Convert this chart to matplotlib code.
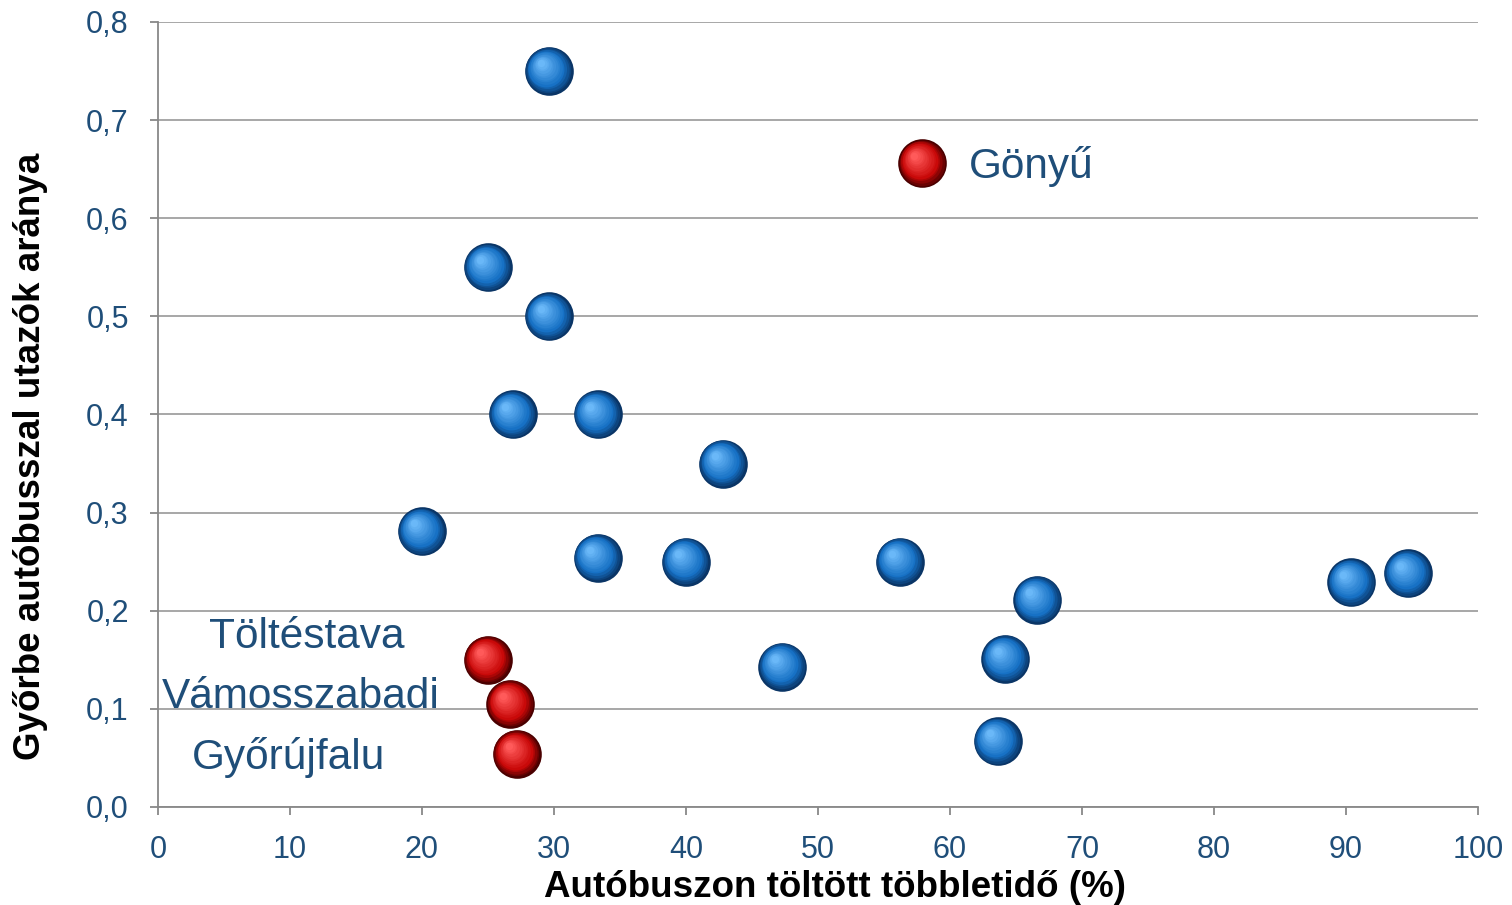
import numpy as np
import matplotlib.pyplot as plt
import matplotlib.transforms as mtransforms
from matplotlib.colors import to_rgb
from matplotlib.ticker import FuncFormatter

# többletidő (%) vs. arány
blue_x = [29.6, 25.0, 29.6, 26.9, 33.3, 42.8, 20.0, 33.3, 40.0, 56.2, 66.6, 90.4, 94.7, 47.3, 64.2, 63.6]
blue_y = [0.75, 0.55, 0.50, 0.40, 0.40, 0.35, 0.281, 0.254, 0.25, 0.25, 0.211, 0.229, 0.238, 0.143, 0.151, 0.067]

red_names = ["Gönyű", "Töltéstava", "Vámosszabadi", "Győrújfalu"]
red_x = [57.9, 25.0, 26.7, 27.2]
red_y = [0.656, 0.15, 0.105, 0.054]

label_pos = [(61.4, 0.653, "left"), (11.3, 0.173, "center"), (10.8, 0.112, "center"), (9.9, 0.050, "center")]

txt_color = "#1F4E79"
plt.rcParams["font.family"] = ["Liberation Sans", "DejaVu Sans"]

fig = plt.figure(figsize=(15.12, 9.05), dpi=100)
ax = fig.add_axes([0.1045, 0.1083, 0.873, 0.8674])


def spheres(ax, xs, ys, dark, base, light, r=17.5, z=3):
    dark, base, light = np.array(to_rgb(dark)), np.array(to_rgb(base)), np.array(to_rgb(light))
    n = 14
    for k in range(n):
        t = k / (n - 1)
        if t < 0.3:
            c = dark + (base - dark) * (t / 0.3)
        else:
            c = base + (light - base) * ((t - 0.3) / 0.7)
        rad = r * (1 - 0.85 * t)
        off = 0.32 * r * t
        tr = mtransforms.offset_copy(ax.transData, fig=fig, x=-off, y=off, units="points")
        ax.scatter(xs, ys, s=(2 * rad) ** 2, color=c, transform=tr, zorder=z + k * 0.01,
                   linewidths=0, clip_on=False)


spheres(ax, blue_x, blue_y, "#0a3566", "#1670c4", "#6ab8f8")
spheres(ax, red_x, red_y, "#4a0000", "#c80808", "#ff5a5a")

for (tx, ty, ha), name in zip(label_pos, red_names):
    ax.text(tx, ty, name, ha=ha, va="center", fontsize=30.5, color=txt_color, zorder=5)

ax.set_xlim(0, 100)
ax.set_ylim(0, 0.8)
ax.set_xticks(np.arange(0, 101, 10))
ax.set_yticks(np.arange(0, 0.81, 0.1))
ax.yaxis.set_major_formatter(FuncFormatter(lambda v, p: f"{v:.1f}".replace(".", ",")))
ax.grid(axis="y", color="#a0a0a0", linewidth=1.3)
ax.set_axisbelow(True)
for s in ["top", "right"]:
    ax.spines[s].set_visible(False)
for s in ["left", "bottom"]:
    ax.spines[s].set_color("#888888")
    ax.spines[s].set_linewidth(1.3)
ax.tick_params(colors="#888888", labelcolor=txt_color, labelsize=22, length=6, width=1.3)
ax.tick_params(axis="x", pad=14)
ax.tick_params(axis="y", pad=15)

ax.set_xlabel("Autóbuszon töltött többletidő (%)", fontsize=26.5, fontweight="bold")
ax.set_ylabel("Győrbe autóbusszal utazók aránya", fontsize=26.5, fontweight="bold")
ax.xaxis.set_label_coords(0.513, -0.08)
ax.yaxis.set_label_coords(-0.083, 0.447)

fig.savefig("out.png", dpi=100)
